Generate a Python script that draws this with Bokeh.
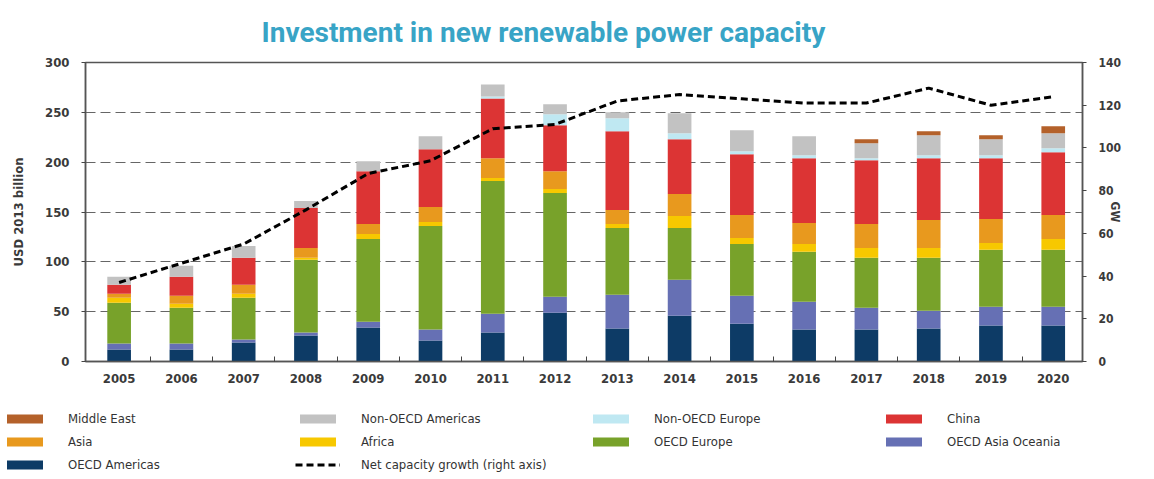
from bokeh.plotting import figure
from bokeh.models import Range1d, LinearAxis, FixedTicker, Legend, LegendItem, ColumnDataSource, Title
from bokeh.embed import file_html
from bokeh.resources import INLINE

years = [2005, 2006, 2007, 2008, 2009, 2010, 2011, 2012, 2013, 2014, 2015, 2016, 2017, 2018, 2019, 2020]
oecd_americas      = [12, 12, 19, 26, 34, 21, 29, 49, 33, 46, 38, 32, 32, 33, 36, 36]
oecd_asia_oceania  = [6, 6, 3, 3, 6, 11, 19, 16, 34, 36, 28, 28, 22, 18, 19, 19]
oecd_europe        = [41, 36, 42, 73, 83, 104, 133, 104, 67, 52, 52, 50, 50, 53, 57, 57]
africa             = [5, 4, 4, 2, 5, 4, 3, 4, 4, 12, 6, 8, 10, 10, 7, 11]
asia               = [4, 8, 9, 10, 10, 15, 20, 18, 14, 22, 23, 21, 24, 28, 24, 24]
china              = [9, 19, 27, 40, 53, 58, 60, 46, 79, 55, 61, 65, 64, 62, 61, 63]
non_oecd_europe    = [0, 0, 0, 0, 0, 0, 2, 11, 13, 6, 3, 3, 2, 3, 3, 4]
non_oecd_americas  = [8, 11, 12, 7, 10, 13, 12, 10, 6, 20, 21, 19, 15, 20, 16, 15]
middle_east        = [0, 0, 0, 0, 0, 0, 0, 0, 0, 0, 0, 0, 4, 4, 4, 7]
net_capacity_gw    = [37, 46, 55, 71, 88, 94, 109, 111, 122, 125, 123, 121, 121, 128, 120, 124]

left_ticks = [0, 50, 100, 150, 200, 250, 300]
right_ticks = [0, 20, 40, 60, 80, 100, 120, 140]

series = [
    ("oecd_americas", "OECD Americas", "#0d3b66", oecd_americas),
    ("oecd_asia_oceania", "OECD Asia Oceania", "#6670b4", oecd_asia_oceania),
    ("oecd_europe", "OECD Europe", "#78a22a", oecd_europe),
    ("africa", "Africa", "#f7c800", africa),
    ("asia", "Asia", "#e8991e", asia),
    ("china", "China", "#dc3434", china),
    ("non_oecd_europe", "Non-OECD Europe", "#bfe8f2", non_oecd_europe),
    ("non_oecd_americas", "Non-OECD Americas", "#c2c2c2", non_oecd_americas),
    ("middle_east", "Middle East", "#b4612a", middle_east),
]

data = {"year": years, "gw": net_capacity_gw}
for key, _, _, vals in series:
    data[key] = vals
src = ColumnDataSource(data)

FONT = "'DejaVu Sans Condensed', 'Liberation Sans Narrow', sans-serif"

p = figure(width=1138, height=391, output_backend="svg", toolbar_location=None,
           x_range=Range1d(2004.46, 2020.47), y_range=Range1d(0, 300),
           min_border_left=85, min_border_right=56, min_border_top=62, min_border_bottom=30)
p.extra_y_ranges = {"gw": Range1d(0, 140)}

t = Title(text="Investment in new renewable power capacity", align="left", offset=176,
          text_font="Roboto", text_font_size="28px", text_font_style="bold",
          text_color="#38a4c6", standoff=27)
p.add_layout(t, "above")

p.outline_line_color = "#555555"
p.outline_line_width = 1.5
p.background_fill_color = "white"
p.border_fill_color = "white"

p.xgrid.visible = False
p.ygrid.ticker = FixedTicker(ticks=left_ticks)
p.ygrid.grid_line_color = "#666666"
p.ygrid.grid_line_dash = "10 5"
p.ygrid.grid_line_width = 1

stackers = [s[0] for s in series]
colors = [s[2] for s in series]
renderers = p.vbar_stack(stackers, x="year", width=0.38, color=colors, source=src, line_width=0)

line = p.line("year", "gw", source=src, y_range_name="gw", line_color="black",
              line_width=3, line_dash="7 4")

xa = p.xaxis[0]
xa.ticker = FixedTicker(ticks=years, minor_ticks=[y + 0.5 for y in years[:-1]])
xa.major_tick_in = 0
xa.major_tick_out = 0
xa.minor_tick_in = 5
xa.minor_tick_out = 0
xa.minor_tick_line_color = "#444444"
xa.major_label_standoff = 12
xa.axis_line_color = "#555555"
xa.axis_line_width = 1.5

ya = p.yaxis[0]
ya.ticker = FixedTicker(ticks=left_ticks)
ya.axis_label = "USD 2013 billion"
ya.axis_label_standoff = 16
ya.major_tick_out = 4
ya.major_tick_in = 0
ya.minor_tick_out = 0
ya.minor_tick_in = 0
ya.major_label_standoff = 12
ya.axis_line_color = "#555555"
ya.axis_line_width = 1.5

ra = LinearAxis(y_range_name="gw", ticker=FixedTicker(ticks=right_ticks), axis_label="GW")
ra.major_tick_out = 4
ra.major_tick_in = 0
ra.minor_tick_out = 0
ra.minor_tick_in = 0
ra.major_label_standoff = 12
ra.axis_label_standoff = -16
ra.axis_line_color = "#555555"
ra.axis_line_width = 1.5
p.add_layout(ra, "right")

for ax in [xa, ya, ra]:
    ax.major_label_text_font = FONT
    ax.major_label_text_font_size = "13px"
    ax.major_label_text_font_style = "bold"
    ax.major_label_text_color = "#3a3a3a"
    ax.axis_label_text_font = FONT
    ax.axis_label_text_font_size = "13px"
    ax.axis_label_text_font_style = "bold"
    ax.axis_label_text_color = "#3a3a3a"
    ax.major_tick_line_color = "#444444"
ra.major_label_text_font_size = "12px"
ra.axis_label_text_font_size = "12px"
ra.axis_label_text_line_height = 0.9

# legend holder: a second figure whose proxy glyphs fall outside its ranges
lg = figure(width=1138, height=88, output_backend="svg", toolbar_location=None,
            x_range=Range1d(0, 1), y_range=Range1d(0, 1),
            x_axis_location=None, y_axis_location=None,
            min_border_left=0, min_border_right=0, min_border_top=0, min_border_bottom=0)
lg.grid.visible = False
lg.outline_line_color = None

proxy = {}
for key, label, color, _ in series:
    proxy[key] = lg.vbar(x="year", top=key, width=0.38, color=color, line_width=0, source=src)
proxy_line = lg.line("year", "gw", source=src, line_color="black", line_width=3, line_dash="7 4")

lab = {s[0]: s[1] for s in series}
order = ["middle_east", "non_oecd_americas", "non_oecd_europe", "china",
         "asia", "africa", "oecd_europe", "oecd_asia_oceania", "oecd_americas"]
items = [LegendItem(label=lab[k], renderers=[proxy[k]]) for k in order]
items.append(LegendItem(label="Net capacity growth (right axis)", renderers=[proxy_line]))

legend = Legend(items=items, orientation="horizontal", ncols=4, location=(2, 7),
                glyph_width=45, glyph_height=11, label_standoff=21, label_width=220,
                label_height=16, spacing=7, padding=0, margin=0,
                border_line_color=None, background_fill_alpha=0,
                label_text_font=FONT, label_text_font_size="13px", label_text_color="#333333")
lg.add_layout(legend, "center")

open("out.html", "w").write(file_html([p, lg], INLINE))
